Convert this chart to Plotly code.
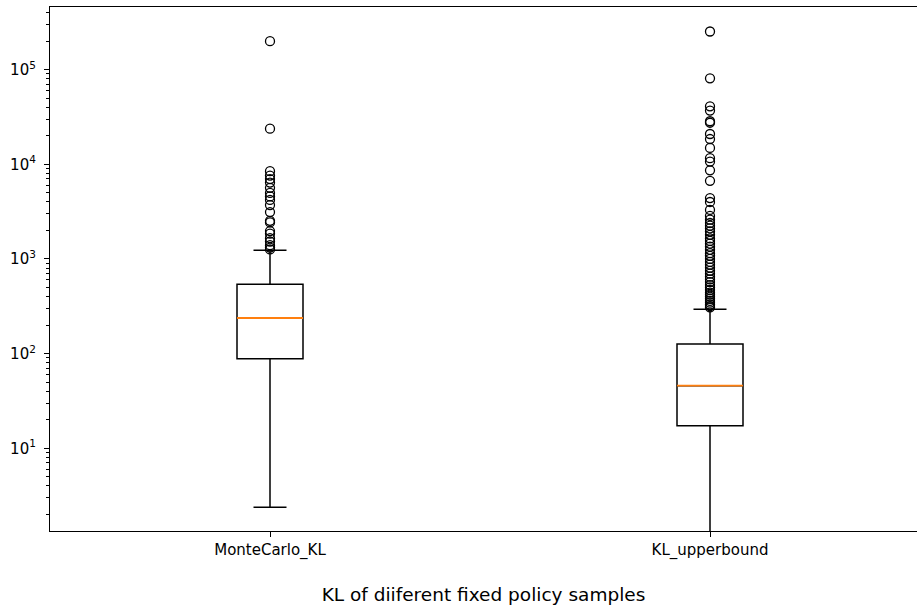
import plotly.graph_objects as go

# ---------------- data ----------------
CATEGORIES = ["MonteCarlo_KL", "KL_upperbound"]
POSITIONS = [1, 2]

Q1 = [88.5, 17.3]
MEDIAN = [238, 45.8]
Q3 = [540, 126]
LOWER_WHISKER = [2.38, 0.5]   # right whisker runs below the visible axis
UPPER_WHISKER = [1236, 294]

OUTLIERS_MC = [200000, 23800, 8470, 7600, 6990, 6420, 5650, 4980, 4580, 4210,
               3710, 3130, 2530, 2430, 1970, 1850, 1660, 1530, 1400, 1320, 1260]
OUTLIERS_UB = [253000, 80900, 41000, 37000, 28500, 27500,
               20900, 18500, 14900, 11600, 10700, 8640, 6700,
               4400, 4000, 3300,
               2850, 2600, 2400, 2250, 2100, 1950, 1800, 1650, 1550, 1450,
               1350, 1250, 1150, 1080, 1000, 930, 870, 810, 750, 700, 650,
               610, 570, 530, 500, 470, 440, 420, 400, 380, 360, 345, 330,
               318, 308]

Y_TICK_VALS = [10, 100, 1000, 10000, 100000]
Y_TICK_TEXT = ["10<sup>1</sup>", "10<sup>2</sup>", "10<sup>3</sup>",
               "10<sup>4</sup>", "10<sup>5</sup>"]
X_TITLE = "KL of diiferent fixed policy samples"

# ---------------- style ----------------
BOX_WIDTH = 0.15
FONT = "DejaVu Sans"
LW = 1.5

fig = go.Figure()

fig.add_trace(go.Box(
    x=POSITIONS, q1=Q1, median=MEDIAN, q3=Q3,
    lowerfence=LOWER_WHISKER, upperfence=UPPER_WHISKER,
    width=BOX_WIDTH, whiskerwidth=0.5,
    fillcolor="rgba(0,0,0,0)", line=dict(color="black", width=LW),
    boxpoints=False, hoverinfo="skip",
))

# orange median lines
mx, my = [], []
for p, m in zip(POSITIONS, MEDIAN):
    mx += [p - BOX_WIDTH / 2, p + BOX_WIDTH / 2, None]
    my += [m, m, None]
fig.add_trace(go.Scatter(x=mx, y=my, mode="lines",
                         line=dict(color="#ff7f0e", width=1.8),
                         hoverinfo="skip"))

# fliers
for p, outs in zip(POSITIONS, [OUTLIERS_MC, OUTLIERS_UB]):
    fig.add_trace(go.Scatter(
        x=[p] * len(outs), y=outs, mode="markers",
        marker=dict(symbol="circle-open", size=9, color="black",
                    line=dict(width=1.3)),
        hoverinfo="skip"))

minor_vals = [m * 10 ** e for e in range(0, 6) for m in range(2, 10)]

fig.update_layout(
    width=917, height=609,
    margin=dict(l=50, r=0, t=7, b=78, autoexpand=False),
    paper_bgcolor="white", plot_bgcolor="white",
    showlegend=False,
    font=dict(family=FONT, color="black", size=15),
    xaxis=dict(
        automargin=False,
        range=[0.5, 0.5 + 867 / 440],
        tickmode="array", tickvals=POSITIONS, ticktext=CATEGORIES,
        ticks="outside", ticklen=5, tickwidth=1.2, tickcolor="black",
        showline=True, linecolor="black", linewidth=1.2, mirror=True,
        showgrid=False, zeroline=False,
        tickfont=dict(family=FONT, size=15, color="black"),
        title=dict(text=X_TITLE, font=dict(family=FONT, size=18.5, color="black"),
                   standoff=28),
    ),
    yaxis=dict(
        automargin=False,
        type="log", range=[0.126, 5.662],
        tickmode="array", tickvals=Y_TICK_VALS, ticktext=Y_TICK_TEXT,
        ticks="outside", ticklen=5, tickwidth=1.2, tickcolor="black",
        ticklabelstandoff=5,
        minor=dict(tickmode="array", tickvals=minor_vals, ticks="outside",
                   ticklen=3, tickwidth=1, tickcolor="black", showgrid=False),
        showline=True, linecolor="black", linewidth=1.2, mirror=False,
        showgrid=False, zeroline=False,
        tickfont=dict(family=FONT, size=15, color="black"),
    ),
)

fig.write_html("out.html",
               config={"displayModeBar": False},
               post_script="document.body.style.margin='0';"
                           "document.body.style.overflow='hidden';")
